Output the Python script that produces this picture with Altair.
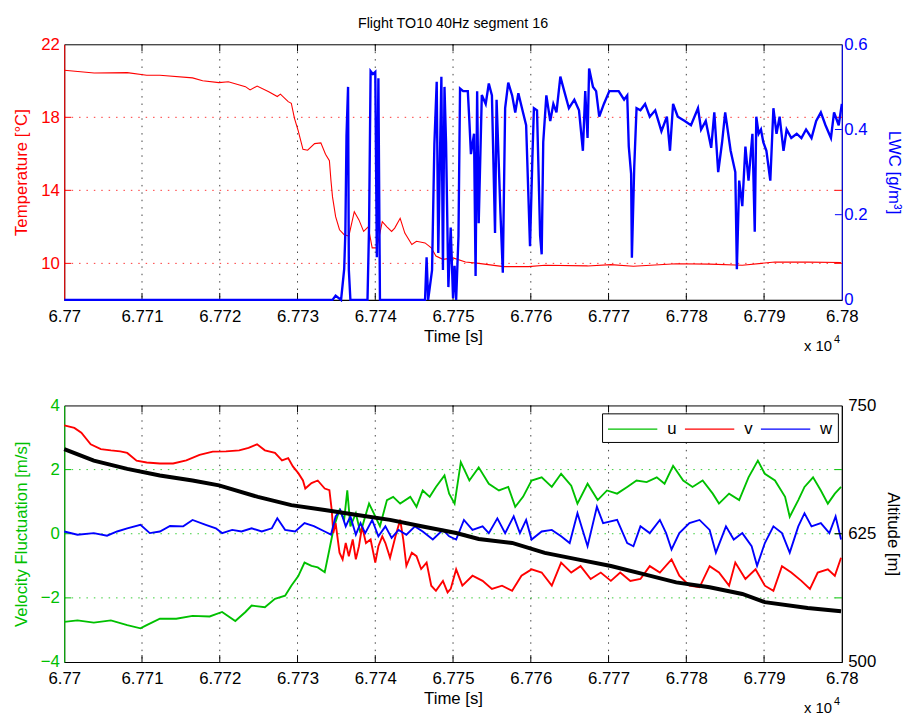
import altair as alt
import pandas as pd

T0 = 67700.0  # seconds; all time lists below are seconds after T0

# ---------------- top panel ----------------
TEMP_T = [0, 3.85, 8.1, 10.6, 12.3, 16.5, 17.8, 19.9, 21.1, 23.3, 23.9, 24.8, 26.3, 27.4, 27.8,
          28.8, 29.2, 29.6, 30.1, 30.7, 31.3, 32.2, 33.0, 33.6, 34.1, 34.3, 34.5, 34.9, 35.4,
          36.0, 36.6, 37.3, 37.9, 38.5, 39.1, 39.6, 40.2, 40.9, 41.5, 42.1, 42.5, 43.2, 43.8,
          44.7, 45.3, 46.4, 47.2, 47.8, 48.7, 50.0, 51.6, 53.3, 56.5, 59.7, 61.8, 67.3, 70.3,
          73.2, 78.7, 83.0, 87.2, 91.4, 95.6, 99.9]
TEMP_V = [20.58, 20.43, 20.45, 20.3, 20.3, 20.16, 20.0, 19.9, 19.95, 19.68, 19.5, 19.71, 19.4,
          19.14, 19.27, 18.86, 18.77, 17.96, 17.24, 16.25, 16.2, 16.56, 16.6, 15.98, 15.62, 14.54,
          13.64, 12.56, 11.84, 11.57, 11.5, 12.83, 12.38, 11.75, 12.0, 10.85, 10.85, 12.29, 12.0,
          11.75, 11.93, 12.47, 11.66, 11.03, 11.21, 11.12, 10.85, 10.4, 10.22, 10.3, 10.07, 10.0,
          9.82, 9.82, 9.9, 9.86, 9.93, 9.84, 9.98, 9.96, 9.9, 10.07, 10.07, 10.05]

LWC_T = [0, 34.5, 34.9, 35.6, 36.0, 36.15, 36.3, 36.5, 36.6, 36.8, 39.0, 39.2, 39.4, 39.7, 40.0,
         40.2, 40.4, 40.6, 46.4, 46.6, 46.8, 47.3, 47.6, 47.9, 48.1, 48.5, 48.7, 48.9, 49.1, 49.4,
         49.7, 50.0, 50.2, 50.4, 50.7, 50.9, 51.3, 51.9, 52.1, 52.3, 52.7, 52.9, 53.1, 53.3, 53.7,
         54.2, 54.6, 55.0, 55.4, 55.6, 56.1, 56.4, 56.7, 57.1, 57.6, 58.0, 58.4, 59.0, 59.4, 59.9,
         60.2, 60.4, 60.8, 61.2, 61.4, 61.6, 62.0, 62.5, 62.9, 63.3, 63.8, 64.3, 64.9, 65.6, 66.2,
         66.7, 67.0, 67.3, 67.5, 68.0, 68.4, 68.8, 69.4, 70.1, 70.7, 71.3, 72.0, 72.4, 72.6, 72.9,
         73.0, 73.3, 73.6, 74.1, 74.7, 75.3, 76.0, 76.8, 77.5, 77.9, 78.3, 78.9, 79.8, 80.6, 81.5,
         81.9, 82.5, 83.2, 83.6, 84.1, 84.6, 85.0, 85.7, 86.3, 86.5, 86.8, 87.2, 87.6, 88.0, 88.5,
         88.8, 89.0, 89.3, 89.6, 89.9, 90.3, 90.8, 91.2, 91.6, 92.0, 92.5, 92.9, 93.5, 94.2, 94.8,
         95.4, 96.1, 96.7, 97.3, 97.9, 98.6, 99.0, 99.6, 100.0]
LWC_V = [0, 0, 0.01, 0.0, 0.072, 0.157, 0.385, 0.5, 0.07, 0.0, 0.0, 0.172, 0.537, 0.53, 0.535,
         0.10, 0.52, 0.0, 0.0, 0.10, 0.0, 0.07, 0.365, 0.512, 0.11, 0.524, 0.07, 0.5, 0.37, 0.03,
         0.17, 0.004, 0.08, 0.0, 0.15, 0.496, 0.49, 0.49, 0.42, 0.342, 0.39, 0.056, 0.49, 0.18,
         0.481, 0.46, 0.508, 0.48, 0.157, 0.47, 0.203, 0.064, 0.45, 0.51, 0.48, 0.44, 0.485, 0.44,
         0.41, 0.126, 0.33, 0.45, 0.445, 0.15, 0.107, 0.37, 0.48, 0.42, 0.46, 0.44, 0.524, 0.49,
         0.45, 0.47, 0.445, 0.35, 0.49, 0.38, 0.543, 0.5, 0.49, 0.43, 0.46, 0.49, 0.49, 0.49, 0.47,
         0.48, 0.36, 0.296, 0.099, 0.31, 0.45, 0.445, 0.46, 0.43, 0.445, 0.396, 0.43, 0.35, 0.46,
         0.43, 0.42, 0.41, 0.45, 0.40, 0.42, 0.357, 0.44, 0.30, 0.37, 0.44, 0.35, 0.30, 0.072, 0.28,
         0.22, 0.36, 0.28, 0.39, 0.16, 0.43, 0.39, 0.40, 0.37, 0.35, 0.28, 0.45, 0.39, 0.43, 0.35,
         0.40, 0.38, 0.39, 0.38, 0.40, 0.38, 0.42, 0.44, 0.41, 0.38, 0.44, 0.41, 0.46]

# ---------------- bottom panel ----------------
U_T = [0, 1.7, 3.8, 6.0, 8.1, 9.8, 10.6, 12.3, 14.4, 16.5, 18.7, 20.3, 22.0, 23.3, 24.1, 25.8,
       27.1, 28.4, 29.2, 30.1, 30.9, 31.8, 32.6, 33.5, 34.1, 34.7, 35.4, 36.0, 36.4, 36.8, 37.5,
       38.1, 38.7, 39.2, 39.8, 40.6, 41.5, 42.3, 43.2, 44.5, 45.3, 46.1, 47.0, 47.8, 48.9, 49.5,
       50.2, 51.0, 52.1, 53.3, 54.6, 55.9, 57.1, 58.0, 59.0, 60.1, 61.4, 62.7, 63.9, 65.2, 66.0,
       67.3, 68.6, 69.8, 71.1, 72.4, 73.6, 74.9, 76.2, 77.2, 78.3, 79.6, 80.8, 82.1, 83.4, 84.2,
       85.5, 86.8, 88.0, 89.2, 90.1, 91.4, 92.7, 93.3, 94.4, 95.2, 96.3, 97.3, 98.2, 99.1, 99.9]
U_V = [-2.75, -2.7, -2.77, -2.7, -2.85, -2.95, -2.85, -2.65, -2.65, -2.56, -2.58, -2.44, -2.72,
       -2.44, -2.24, -2.29, -2.03, -1.93, -1.62, -1.32, -0.9, -1.0, -1.05, -1.2, -0.49, 0.23, 0.74,
       0.44, 1.35, 0.23, 0.64, 0.02, 0.54, 0.94, 0.64, 0.23, 1.05, 1.15, 0.94, 1.15, 0.84, 1.35,
       1.15, 1.46, 1.82, 1.25, 0.94, 2.23, 1.66, 2.07, 1.56, 1.35, 1.46, 0.84, 1.15, 1.66, 1.76,
       1.46, 1.87, 1.5, 0.94, 1.56, 1.05, 1.35, 1.25, 1.46, 1.66, 1.61, 1.76, 1.56, 2.12, 1.66,
       1.46, 1.66, 1.25, 0.94, 1.25, 1.05, 1.76, 2.28, 1.87, 1.66, 1.15, 0.53, 1.05, 1.46, 1.76,
       1.35, 0.94, 1.25, 1.46]

V_T = [0, 1.3, 2.2, 3.4, 4.7, 6.0, 7.2, 8.1, 9.3, 10.6, 12.3, 14.0, 15.7, 17.4, 19.1, 20.8, 22.5,
       23.7, 24.8, 25.8, 27.1, 28.0, 28.8, 29.4, 30.1, 30.7, 31.0, 31.8, 32.6, 33.5, 34.1, 34.4,
       34.6, 34.9, 35.4, 35.8, 36.2, 36.6, 37.1, 37.5, 37.9, 38.3, 38.8, 39.4, 40.0, 40.4, 40.9,
       41.3, 41.9, 42.6, 43.2, 43.6, 44.0, 44.7, 45.3, 45.9, 46.6, 47.2, 47.8, 48.7, 49.3, 49.7,
       50.4, 51.2, 52.5, 53.8, 55.0, 56.3, 57.6, 58.8, 60.1, 61.4, 62.7, 63.9, 65.2, 66.4, 67.7,
       69.0, 70.3, 71.5, 72.8, 74.1, 75.3, 76.6, 78.1, 79.1, 80.4, 81.7, 83.0, 84.2, 85.5, 86.3,
       87.6, 88.9, 90.1, 91.2, 92.3, 93.5, 94.8, 95.9, 96.9, 98.2, 99.1, 99.9]
V_V = [3.38, 3.3, 3.15, 2.79, 2.64, 2.6, 2.57, 2.52, 2.28, 2.22, 2.19, 2.19, 2.29, 2.46, 2.56,
       2.57, 2.6, 2.68, 2.79, 2.6, 2.52, 2.29, 2.36, 2.1, 1.89, 1.66, 1.41, 1.58, 1.66, 1.41, 1.36,
       0.74, 0.02, 0.33, -0.59, -0.8, -0.29, -0.7, -0.18, -0.8, -0.39, 0.23, -0.29, -0.18, -0.9,
       -0.39, -0.08, -0.29, -0.75, -0.08, 0.44, -0.18, -1.0, -0.59, -0.7, -1.1, -0.9, -1.62, -1.78,
       -1.47, -1.83, -1.72, -1.11, -1.62, -1.31, -1.47, -1.72, -1.62, -1.78, -1.31, -1.11, -1.21,
       -1.62, -0.9, -1.21, -1.01, -1.41, -1.21, -1.47, -1.21, -1.47, -1.41, -1.01, -1.21, -0.8,
       -1.31, -1.62, -1.67, -1.01, -1.21, -1.62, -0.9, -1.41, -1.11, -1.62, -1.78, -1.01, -1.21,
       -1.47, -1.72, -1.21, -1.11, -1.31, -0.75]

W_T = [0, 1.7, 3.8, 5.5, 6.8, 8.1, 9.8, 11.0, 12.3, 13.6, 15.3, 16.5, 18.2, 19.5, 20.3, 21.6,
       22.8, 24.1, 25.4, 26.7, 27.4, 28.4, 29.7, 30.9, 32.1, 33.5, 34.3, 34.9, 35.5, 36.2, 36.8,
       37.5, 38.1, 38.7, 39.6, 40.4, 41.3, 42.1, 43.0, 44.0, 45.1, 46.1, 47.4, 48.7, 49.5, 50.4,
       51.4, 52.5, 53.8, 54.6, 55.7, 56.7, 57.8, 58.6, 59.4, 60.1, 61.4, 62.7, 63.9, 65.0, 66.0,
       67.3, 68.5, 69.3, 71.1, 72.4, 73.2, 74.1, 75.3, 76.6, 77.4, 78.1, 79.1, 80.4, 81.7, 83.0,
       83.8, 85.1, 86.1, 87.2, 88.4, 89.1, 90.1, 91.2, 92.3, 93.3, 94.4, 95.2, 96.1, 97.3, 98.4,
       99.2, 99.9]
W_V = [0.07, -0.03, 0.02, -0.06, 0.07, 0.17, 0.28, 0.02, 0.07, 0.24, 0.23, 0.43, 0.28, 0.17, 0.02,
       0.12, 0.07, 0.17, 0.07, 0.17, 0.48, 0.12, 0.07, 0.33, 0.24, 0.07, -0.03, 0.54, 0.74, 0.23,
       0.54, -0.03, 0.33, 0.02, 0.43, -0.08, 0.23, -0.13, 0.12, -0.03, 0.23, 0.07, -0.18, 0.12,
       -0.08, -0.18, 0.43, 0.12, 0.23, 0.02, 0.48, 0.02, 0.54, 0.02, 0.43, -0.18, 0.07, 0.12, -0.08,
       -0.29, 0.64, -0.39, 0.84, 0.33, 0.43, -0.29, -0.39, 0.23, 0.02, 0.43, 0.02, -0.49, 0.02,
       0.33, 0.43, 0.12, -0.59, 0.23, -0.18, 0.02, -0.39, -1.0, -0.29, 0.23, 0.02, -0.59, 0.23,
       0.64, 0.23, 0.33, 0.02, 0.54, -0.18]

ALT_T = [0, 3.8, 8.1, 12.3, 16.5, 19.9, 24.9, 29.2, 33.5, 37.7, 41.9, 46.1, 50.4, 53.3, 57.6,
         61.8, 66.0, 70.3, 74.5, 78.7, 83.0, 87.2, 90.1, 95.6, 99.9]
ALT_V = [707.4, 696.2, 688.2, 681.7, 676.9, 672.1, 660.9, 652.9, 648.1, 643.3, 638.5, 632.0,
         625.7, 619.9, 616.0, 606.4, 600.0, 593.6, 585.6, 577.6, 572.8, 566.3, 558.4, 552.6, 549.4]

# ---------------- axes ----------------
X_TICKS = [6.77, 6.771, 6.772, 6.773, 6.774, 6.775, 6.776, 6.777, 6.778, 6.779, 6.78]
X_GRID = X_TICKS[1:-1]
TEMP_TICKS = [10, 14, 18, 22]
TEMP_GRID = [10, 14, 18]
LWC_TICKS = [0, 0.2, 0.4, 0.6]
LWC_INNER = [0.2, 0.4]
VEL_TICKS = [-4, -2, 0, 2, 4]
VEL_GRID = [-2, 0, 2]
ALT_TICKS = [500, 625, 750]
ALT_INNER = [625]
SERIES = ["u", "v", "w"]

W, H1, H2 = 788, 259, 260
FONT = "Liberation Sans"
RED, BLUE, GREEN, BLACK = "#ff0000", "#0000ff", "#00c000", "#000000"
FS = 17
TL = 7  # inward tick length


def frame(times, vals):
    return pd.DataFrame({"t": [(T0 + s) / 1e4 for s in times], "val": vals})


def vals(lst):
    return pd.DataFrame({"val": lst})


XS = alt.Scale(domain=[6.77, 6.78], nice=False, zero=False)
X_AXIS = alt.Axis(values=X_TICKS, format=".3~f", title="Time [s]", labelFontSize=FS,
                  titleFontSize=FS, titleFontWeight="normal", labelColor=BLACK, titleColor=BLACK,
                  domainColor=BLACK, ticks=False, tickSize=0, labelPadding=9, titlePadding=4,
                  grid=False, labelFlush=False, labelOverlap=False)


def xenc(field="t"):
    return alt.X(f"{field}:Q", scale=XS, axis=X_AXIS)


def yaxis(values, orient, title, color, lpad, tpad, fmt=None):
    kw = dict(values=values, orient=orient, title=title, labelColor=color, titleColor=color,
              domainColor=color, ticks=False, tickSize=0, labelPadding=lpad, titlePadding=tpad,
              labelFontSize=FS, titleFontSize=FS, titleFontWeight="normal", grid=False,
              labelFlush=False, labelOverlap=False)
    if fmt:
        kw["format"] = fmt
    return alt.Axis(**kw)


def panel_common(h, ygrid_vals, yfield_enc, grid_color, tick_vals, tick_color):
    """Layers sharing the left y scale: grids, inward ticks, x10^4 note."""
    xg = alt.Chart(vals(X_GRID)).mark_rule(color=BLACK, strokeDash=[1.5, 6], strokeWidth=1,
                                           opacity=0.75).encode(x=xenc("val"))
    yg = alt.Chart(vals(ygrid_vals)).mark_rule(color=grid_color, strokeDash=[1.5, 6],
                                               strokeWidth=1, opacity=0.8).encode(
        x=alt.value(0), x2=alt.value(W), y=yfield_enc("val"))
    xtb = alt.Chart(vals(X_GRID)).mark_rule(color=BLACK).encode(
        x=xenc("val"), y=alt.value(h), y2=alt.value(h - TL))
    xtt = alt.Chart(vals(X_GRID)).mark_rule(color=BLACK).encode(
        x=xenc("val"), y=alt.value(0), y2=alt.value(TL))
    ytl = alt.Chart(vals(tick_vals)).mark_rule(color=tick_color).encode(
        y=yfield_enc("val"), x=alt.value(0), x2=alt.value(TL))
    ytr = alt.Chart(vals(tick_vals)).mark_rule(color=tick_color).encode(
        y=yfield_enc("val"), x=alt.value(W - TL), x2=alt.value(W))
    note = alt.Chart(pd.DataFrame({"s": ["x 10"]})).mark_text(
        align="right", baseline="alphabetic", fontSize=15, font=FONT, color=BLACK).encode(
        text="s:N", x=alt.value(778), y=alt.value(h + 52))
    sup = alt.Chart(pd.DataFrame({"s": ["4"]})).mark_text(
        align="left", baseline="alphabetic", fontSize=11, font=FONT, color=BLACK).encode(
        text="s:N", x=alt.value(780), y=alt.value(h + 44))
    return [xg, yg, xtb, xtt, ytl, ytr, note, sup]


# ---- top panel ----
TEMP_SCALE = alt.Scale(domain=[8, 22], nice=False, zero=False)
TEMP_AXIS = yaxis(TEMP_TICKS, "left", "Temperature [°C]", RED, 5, 10)
LWC_SCALE = alt.Scale(domain=[0, 0.6], nice=False)
LWC_AXIS = yaxis(LWC_TICKS, "right", "LWC [g/m³]", BLUE, 2, 18, fmt=".1~f")


def temp_y(f):
    return alt.Y(f"{f}:Q", scale=TEMP_SCALE, axis=TEMP_AXIS)


def lwc_y(f):
    return alt.Y(f"{f}:Q", scale=LWC_SCALE, axis=LWC_AXIS)


temp_line = alt.Chart(frame(TEMP_T, TEMP_V)).mark_line(color=RED, strokeWidth=1.1).encode(
    x=xenc(), y=temp_y("val"))
top_left = alt.layer(*panel_common(H1, TEMP_GRID, temp_y, RED, TEMP_GRID, RED), temp_line)

lwc_line = alt.Chart(frame(LWC_T, LWC_V)).mark_line(color=BLUE, strokeWidth=2.4).encode(
    x=xenc(), y=lwc_y("val"))
lwc_ticks = alt.Chart(vals(LWC_INNER)).mark_rule(color=BLUE).encode(
    y=lwc_y("val"), x=alt.value(W - TL), x2=alt.value(W))
top_right = alt.layer(lwc_line, lwc_ticks)

top = alt.layer(top_left, top_right).resolve_scale(y="independent").properties(
    width=W, height=H1,
    title=alt.TitleParams("Flight TO10 40Hz segment 16", fontSize=14.5, fontWeight="normal",
                          font=FONT, color=BLACK, anchor="middle", frame="group", offset=4))

# ---- bottom panel ----
VEL_SCALE = alt.Scale(domain=[-4, 4], nice=False, zero=False)
VEL_AXIS = yaxis(VEL_TICKS, "left", "Velocity Fluctuation [m/s]", GREEN, 5, 10)
ALT_SCALE = alt.Scale(domain=[500, 750], nice=False, zero=False)
ALT_AXIS = yaxis(ALT_TICKS, "right", "Altitude [m]", BLACK, 6, 8)


def vel_y(f):
    return alt.Y(f"{f}:Q", scale=VEL_SCALE, axis=VEL_AXIS)


def alt_y(f):
    return alt.Y(f"{f}:Q", scale=ALT_SCALE, axis=ALT_AXIS)


vel_df = pd.concat([
    frame(U_T, U_V).assign(series="u"),
    frame(V_T, V_V).assign(series="v"),
    frame(W_T, W_V).assign(series="w"),
], ignore_index=True)

vel_lines = alt.Chart(vel_df).mark_line(strokeWidth=1.9).encode(
    x=xenc(), y=vel_y("val"),
    color=alt.Color("series:N", scale=alt.Scale(domain=SERIES, range=[GREEN, RED, BLUE]),
                    legend=alt.Legend(orient="none", legendX=545, legendY=8,
                                      direction="horizontal", title=None,
                                      symbolType="M-2.5,0H2.5", symbolSize=400,
                                      symbolOffset=15, symbolStrokeWidth=1.2,
                                      labelFontSize=FS, labelFont=FONT, labelColor=BLACK,
                                      labelOffset=24, columnPadding=5, padding=5,
                                      strokeColor=BLACK, fillColor="white", cornerRadius=0)),
    order=alt.Order("t:Q"))
bottom_left = alt.layer(*panel_common(H2, VEL_GRID, vel_y, GREEN, VEL_GRID, GREEN), vel_lines)

alt_line = alt.Chart(frame(ALT_T, ALT_V)).mark_line(color=BLACK, strokeWidth=4).encode(
    x=xenc(), y=alt_y("val"))
alt_ticks = alt.Chart(vals(ALT_INNER)).mark_rule(color=BLACK).encode(
    y=alt_y("val"), x=alt.value(W - TL), x2=alt.value(W))
bottom_right = alt.layer(alt_line, alt_ticks)

bottom = alt.layer(bottom_left, bottom_right).resolve_scale(y="independent").properties(
    width=W, height=H2)

chart = alt.vconcat(top, bottom, spacing=41).resolve_legend(color="independent").properties(
    padding={"left": 4, "top": 3, "right": 0, "bottom": 0}
).configure(font=FONT).configure_view(stroke=BLACK, strokeWidth=1).configure_axis(
    labelFont=FONT, titleFont=FONT)

chart.save("out.html", embed_options={"renderer": "svg", "actions": False})
